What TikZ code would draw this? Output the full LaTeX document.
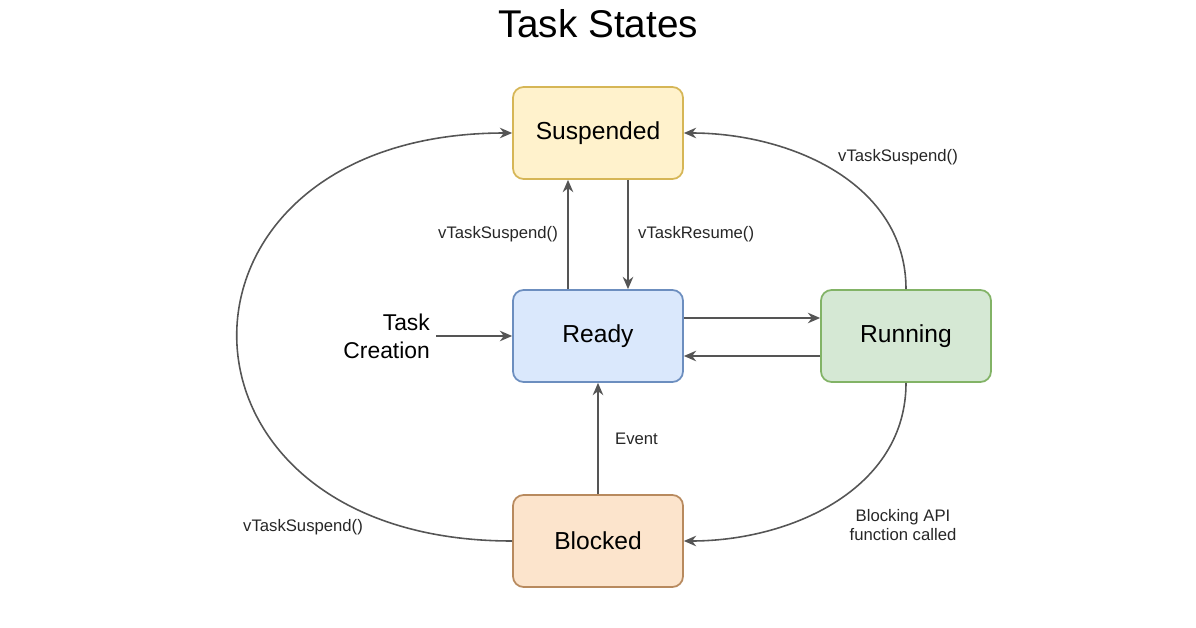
\documentclass[tikz,border=0pt]{standalone}
\usepackage{fontspec}
\setmainfont{Liberation Sans}
\usetikzlibrary{arrows.meta, positioning}
\definecolor{suspfill}{HTML}{FFF2CC}
\definecolor{suspline}{HTML}{D6B656}
\definecolor{readyfill}{HTML}{DAE8FC}
\definecolor{readyline}{HTML}{6C8EBF}
\definecolor{runfill}{HTML}{D5E8D4}
\definecolor{runline}{HTML}{82B366}
\definecolor{blockfill}{HTML}{FCE4CC}
\definecolor{blockline}{HTML}{B88A5E}
\definecolor{linegray}{HTML}{555555}
\begin{document}
\begin{tikzpicture}[x=0.02cm, y=-0.02cm,
    state/.style={draw, rounded corners=6pt, line width=1pt, minimum width=3.4cm,
        minimum height=1.84cm, font=\fontsize{14}{16}\selectfont},
    trans/.style={draw=linegray, line width=0.9pt, -{Stealth[length=7pt, width=6pt]}},
    lbl/.style={font=\fontsize{9.5}{11}\selectfont, text=black!85}]
    \useasboundingbox (0,0) rectangle (1196,628);
    % Title
    \node[font=\fontsize{22}{26}\selectfont] (title) at (598,24) {Task States};
    % States
    \node[state, fill=suspfill, draw=suspline] (susp) at (598,133) {Suspended};
    \node[state, fill=readyfill, draw=readyline] (ready) at (598,336) {Ready};
    \node[state, fill=runfill, draw=runline] (run) at (906,336) {Running};
    \node[state, fill=blockfill, draw=blockline] (block) at (598,541) {Blocked};
    % Task creation
    \node[font=\fontsize{13}{16}\selectfont, align=right, anchor=east] (create) at (436,336) {Task\\Creation};
    \draw[trans] (create.east) -- (ready.west);
    % Ready <-> Suspended
    \draw[trans] ([xshift=-30*0.02cm]ready.north) -- ([xshift=-30*0.02cm]susp.south)
        node[lbl, midway, left=2pt] {vTaskSuspend()};
    \draw[trans] ([xshift=30*0.02cm]susp.south) -- ([xshift=30*0.02cm]ready.north)
        node[lbl, midway, right=2pt] {vTaskResume()};
    % Ready <-> Running
    \draw[trans] ([yshift=18*0.02cm]ready.east) -- ([yshift=18*0.02cm]run.west);
    \draw[trans] ([yshift=-20*0.02cm]run.west) -- ([yshift=-20*0.02cm]ready.east);
    % Blocked -> Ready
    \draw[trans] (block.north) -- (ready.south) node[lbl, midway, right=6pt] {Event};
    % Curved transitions
    \draw[trans] (run.north) to[out=90, in=0] (susp.east);
    \node[lbl] (l1) at (898,157) {vTaskSuspend()};
    \draw[trans] (run.south) to[out=-90, in=0] (block.east);
    \node[lbl, align=center] (l2) at (903,525) {Blocking API\\function called};
    \draw[trans] (block.west) to[out=180, in=180, looseness=2.3] (susp.west);
    \node[lbl] (l3) at (303,527) {vTaskSuspend()};
\end{tikzpicture}
\end{document}
